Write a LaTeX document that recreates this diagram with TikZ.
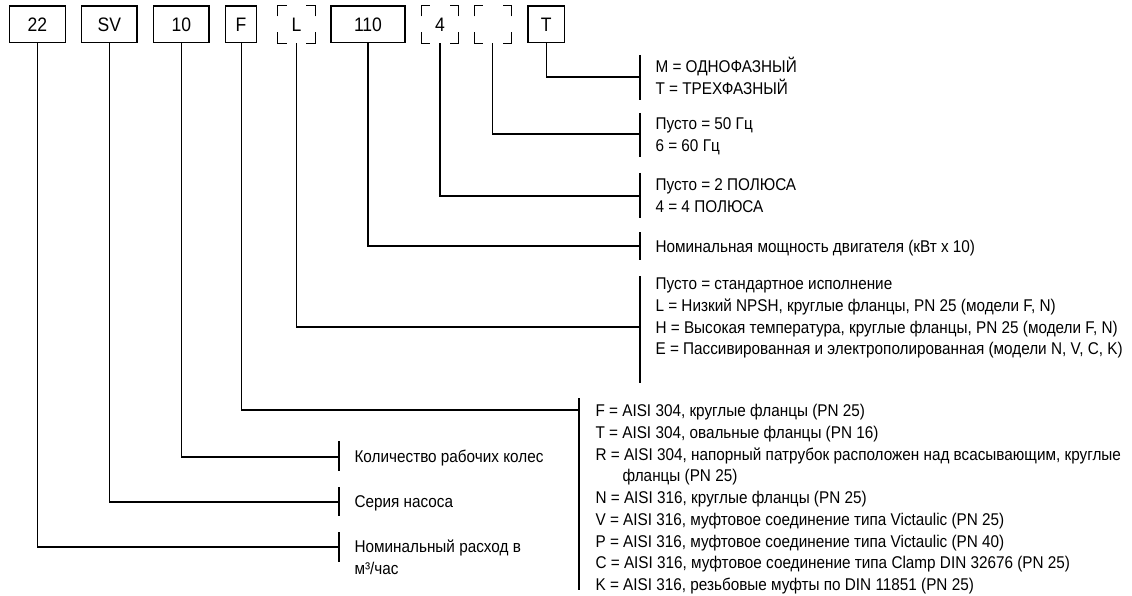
\documentclass[tikz,border=0pt]{standalone}
\usepackage{fontspec}
\setmainfont{Liberation Sans}[FakeStretch=0.90]
\newcommand\fl{\rule{0pt}{16pt}}
\newcommand\cornersof[1]{%
  \draw ([yshift=-11pt]#1.north west) -- (#1.north west) -- ([xshift=9pt]#1.north west);
  \draw ([yshift=-11pt]#1.north east) -- (#1.north east) -- ([xshift=-9pt]#1.north east);
  \draw ([yshift=11pt]#1.south west) -- (#1.south west) -- ([xshift=9pt]#1.south west);
  \draw ([yshift=11pt]#1.south east) -- (#1.south east) -- ([xshift=-9pt]#1.south east);
}
\begin{document}
\begin{tikzpicture}[x=1pt,y=-1pt,line width=1.1pt,
  box/.style={draw, inner sep=0pt, minimum height=36.7pt, font=\fontsize{19.5}{22}\selectfont},
  cbox/.style={inner sep=0pt, minimum height=36.7pt, font=\fontsize{19.5}{22}\selectfont},
  lbl/.style={anchor=north west, inner sep=0pt, align=left, font=\fontsize{17}{21.75}\selectfont}]
\useasboundingbox (0,0) rectangle (1132,596);

% code boxes
\node[box, minimum width=55.5pt] (b22) at (37.35,24.35) {22};
\node[box, minimum width=55.5pt] (bSV) at (109.25,24.35) {SV};
\node[box, minimum width=55.1pt] (b10) at (181.45,24.35) {10};
\node[box, minimum width=30.6pt] (bF) at (241.1,24.35) {F};
\node[cbox, minimum width=36.4pt] (bL) at (296.4,24.35) {L};
\node[box, minimum width=74pt] (b110) at (368,24.35) {110};
\node[cbox, minimum width=36pt] (b4) at (440,24.35) {4};
\node[cbox, minimum width=36.4pt] (bE) at (492.8,24.35) {};
\node[box, minimum width=36.5pt] (bT) at (546.25,24.35) {T};
\cornersof{bL}
\cornersof{b4}
\cornersof{bE}

% bracket coordinates
\coordinate (kT) at (640,77);   \coordinate (kT1) at (640,55);   \coordinate (kT2) at (640,100);
\coordinate (kE) at (640,134);  \coordinate (kE1) at (640,113);  \coordinate (kE2) at (640,157);
\coordinate (k4) at (640,196);  \coordinate (k41) at (640,173);  \coordinate (k42) at (640,218);
\coordinate (k110) at (640,246);\coordinate (k1101) at (640,232);\coordinate (k1102) at (640,260);
\coordinate (kL) at (640,327);  \coordinate (kL1) at (640,276);  \coordinate (kL2) at (640,383);
\coordinate (kF) at (579,410);  \coordinate (kF1) at (579,398);  \coordinate (kF2) at (579,590);
\coordinate (k10) at (339,457); \coordinate (k101) at (339,441); \coordinate (k102) at (339,471);
\coordinate (kSV) at (339,502); \coordinate (kSV1) at (339,487); \coordinate (kSV2) at (339,516);
\coordinate (k22) at (339,547); \coordinate (k221) at (339,532); \coordinate (k222) at (339,562);

% connectors
\draw (bT.south) |- (kT);     \draw (kT1) -- (kT2);
\draw (bE.south) |- (kE);     \draw (kE1) -- (kE2);
\draw (b4.south) |- (k4);     \draw (k41) -- (k42);
\draw (b110.south) |- (k110); \draw (k1101) -- (k1102);
\draw (bL.south) |- (kL);     \draw (kL1) -- (kL2);
\draw (bF.south) |- (kF);     \draw (kF1) -- (kF2);
\draw (b10.south) |- (k10);   \draw (k101) -- (k102);
\draw (bSV.south) |- (kSV);   \draw (kSV1) -- (kSV2);
\draw (b22.south) |- (k22);   \draw (k221) -- (k222);

% labels
\node[lbl] (tT) at (655,56.1) {\fl M = ОДНОФАЗНЫЙ\\T = ТРЕХФАЗНЫЙ};
\node[lbl] (tE) at (655,113.1) {\fl Пусто = 50 Гц\\6 = 60 Гц};
\node[lbl] (t4) at (655,174.1) {\fl Пусто = 2 ПОЛЮСА\\4 = 4 ПОЛЮСА};
\node[lbl] (t110) at (655,236.1) {\fl Номинальная мощность двигателя (кВт x 10)};
\node[lbl] (tL) at (655,273.1) {\fl Пусто = стандартное исполнение\\
L = Низкий NPSH, круглые фланцы, PN 25 (модели F, N)\\
H = Высокая температура, круглые фланцы, PN 25 (модели F, N)\\
E = Пассивированная и электрополированная (модели N, V, C, K)};
\node[lbl] (tF) at (595,400.1) {\fl F = AISI 304, круглые фланцы (PN 25)\\
T = AISI 304, овальные фланцы (PN 16)\\
R = AISI 304, напорный патрубок расположен над всасывающим, круглые\\
\hspace*{27pt}фланцы (PN 25)\\
N = AISI 316, круглые фланцы (PN 25)\\
V = AISI 316, муфтовое соединение типа Victaulic (PN 25)\\
P = AISI 316, муфтовое соединение типа Victaulic (PN 40)\\
C = AISI 316, муфтовое соединение типа Clamp DIN 32676 (PN 25)\\
K = AISI 316, резьбовые муфты по DIN 11851 (PN 25)};
\node[lbl] (t10) at (354,446.1) {\fl Количество рабочих колес};
\node[lbl] (tSV) at (354,491.1) {\fl Серия насоса};
\node[lbl] (t22) at (354,536.1) {\fl Номинальный расход в\\м³/час};
\end{tikzpicture}
\end{document}
